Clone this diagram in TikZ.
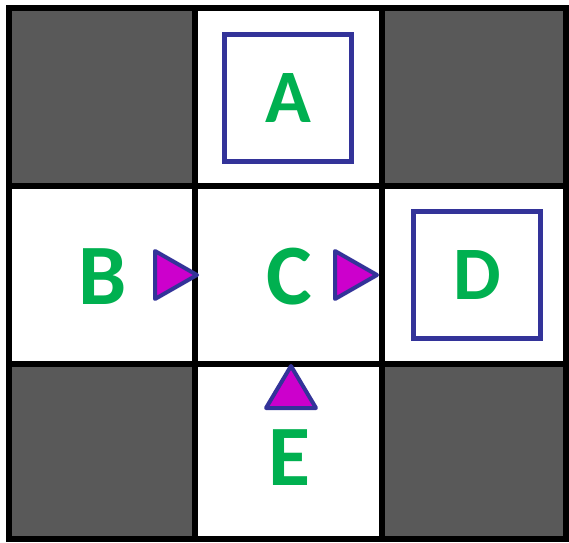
\documentclass[tikz,border=0pt]{standalone}
\usepackage{fontspec}
\newfontfamily\lettersfont{Carlito}
\definecolor{cellgray}{HTML}{595959}
\definecolor{lettergreen}{HTML}{00B050}
\definecolor{boxblue}{HTML}{333399}
\definecolor{pointermagenta}{HTML}{CC00CC}

\begin{document}
\begin{tikzpicture}[x=0.02cm,y=-0.02cm]

        \tikzstyle{letter}=[text=lettergreen, inner sep=0pt, font=\lettersfont\bfseries\fontsize{49}{49}\selectfont]
        \tikzstyle{goalbox}=[draw=boxblue, line width=0.1cm, minimum size=2.56cm, font=\lettersfont\bfseries\fontsize{43}{43}\selectfont]
        \tikzstyle{pointer}=[draw=boxblue, fill=pointermagenta, line width=0.08cm, line join=round]
        \tikzstyle{gridline}=[line width=0.12cm]

        \useasboundingbox (0,0) rectangle (569,542);

        % Draw the cells
        \fill[white] (9,8) rectangle (566,539);
        \fill[cellgray] (9,8) rectangle (195,186);
        \fill[cellgray] (382,8) rectangle (566,186);
        \fill[cellgray] (9,364) rectangle (195,539);
        \fill[cellgray] (382,364) rectangle (566,539);

        % Draw the grid lines
        \draw[gridline] (9,8) rectangle (566,539);
        \foreach \gx in {195,382}
            \draw[gridline] (\gx,8) -- (\gx,539);
        \foreach \gy in {186,364}
            \draw[gridline] (9,\gy) -- (566,\gy);

        % Add the letters (A and D sit in boxes)
        \node[letter, goalbox] (A) at (288,98) {A};
        \node[letter] (B) at (103,277) {B};
        \node[letter] (C) at (289,277) {C};
        \node[letter, goalbox] (D) at (477,275) {D};
        \node[letter] (E) at (289,458) {E};

        % Draw the pointers
        \draw[pointer] (155,251) -- (155,299) -- (197,275) -- cycle;
        \draw[pointer] (335,251) -- (335,299) -- (377,275) -- cycle;
        \draw[pointer] (266,408) -- (316,408) -- (291,366) -- cycle;
    \end{tikzpicture}
\end{document}
